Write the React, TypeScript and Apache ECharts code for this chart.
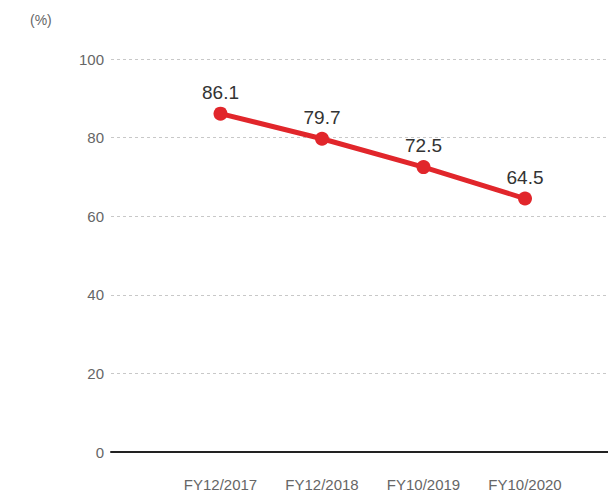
import React, { useEffect, useRef } from "react";
import * as echarts from "echarts";

const categories = ["FY12/2017", "FY12/2018", "FY10/2019", "FY10/2020"];
const values = [86.1, 79.7, 72.5, 64.5];
const yTicks = { min: 0, max: 100, interval: 20 };
const unitLabel = "(%)";

export default function App() {
  const ref = useRef<HTMLDivElement>(null);
  useEffect(() => {
    if (!ref.current) return;
    const chart = echarts.init(ref.current, undefined, { renderer: "svg" });
    const font = "'Helvetica Neue', Helvetica, 'Liberation Sans', Arial, sans-serif";
    chart.setOption({
      animation: false,
      textStyle: { fontFamily: font },
      graphic: [
        {
          type: "text",
          left: 30,
          top: 13,
          style: { text: unitLabel, fontSize: 14, fill: "#666", fontFamily: font },
        },
      ],
      grid: [
        { left: 111, right: 0, top: 59, bottom: 41 },
        { left: 169.75, width: 406, top: 59, bottom: 41 },
      ],
      xAxis: [
        {
          type: "value",
          gridIndex: 0,
          min: 0,
          max: 1,
          axisLabel: { show: false },
          axisTick: { show: false },
          splitLine: { show: false },
          axisLine: { show: true, lineStyle: { color: "#222", width: 2 } },
        },
        {
          type: "category",
          gridIndex: 1,
          data: categories,
          boundaryGap: true,
          axisLine: { show: false },
          axisTick: { show: false },
          axisLabel: { color: "#666", fontSize: 15, margin: 25, fontFamily: font },
        },
      ],
      yAxis: [
        {
          type: "value",
          gridIndex: 0,
          min: yTicks.min,
          max: yTicks.max,
          interval: yTicks.interval,
          axisLine: { show: false },
          axisTick: { show: false },
          axisLabel: { color: "#666", fontSize: 15, margin: 7, fontFamily: font },
          splitLine: {
            show: true,
            lineStyle: { color: "#c8c8c8", type: [3, 3], width: 1 },
          },
        },
        {
          type: "value",
          gridIndex: 1,
          min: yTicks.min,
          max: yTicks.max,
          show: false,
          splitLine: { show: false },
        },
      ],
      series: [
        {
          type: "line",
          xAxisIndex: 1,
          yAxisIndex: 1,
          data: values,
          symbol: "circle",
          symbolSize: 14,
          lineStyle: { color: "#e1262b", width: 5 },
          itemStyle: { color: "#e1262b" },
          label: {
            show: true,
            position: "top",
            distance: 5,
            fontSize: 19,
            color: "#333",
            fontFamily: font,
            formatter: (p: any) => p.value.toFixed(1),
          },
        },
      ],
    });
    return () => chart.dispose();
  }, []);
  return (
    <div
      ref={ref}
      style={{ position: "fixed", left: 0, top: 0, width: 608, height: 493, background: "#fff" }}
    />
  );
}
